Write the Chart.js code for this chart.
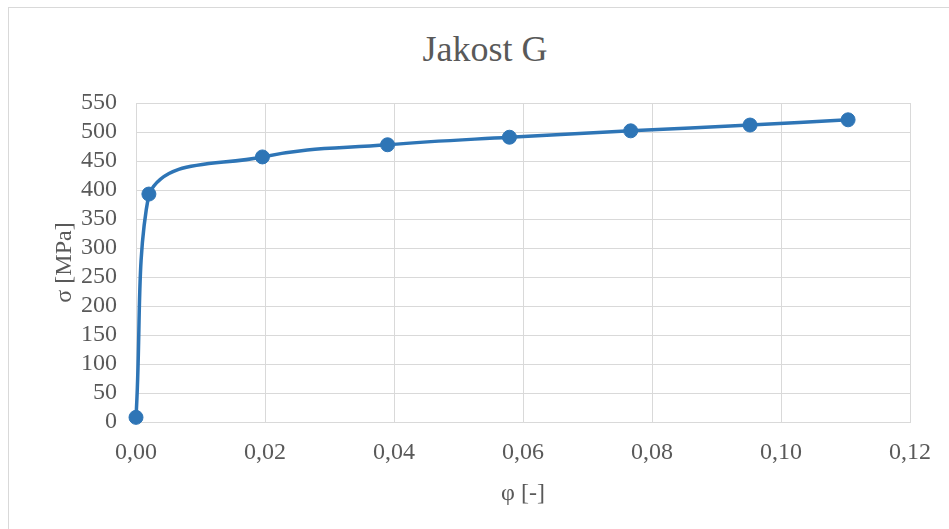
<!DOCTYPE html>
<html>
<head>
<meta charset="utf-8">
<script src="https://cdn.jsdelivr.net/npm/chart.js@4"></script>
<style>
    html, body { margin: 0; padding: 0; background: #fff; overflow: hidden; }
    .chart-frame {
        position: absolute;
        left: 8px;
        top: 7px;
        width: 980px;
        height: 560px;
        border: 1px solid #d9d9d9;
    }
    .chart-title {
        position: absolute;
        left: 8px;
        top: 31px;
        width: 954px;
        text-align: center;
        font-family: "Liberation Serif", "Times New Roman", serif;
        font-size: 36px;
        line-height: 36px;
        color: #595959;
    }
    #chart { position: absolute; left: 0; top: 0; }
</style>
</head>
<body>
<div class="chart-frame"></div>
<div class="chart-title"></div>
<canvas id="chart" width="949" height="529"></canvas>
<script>
// values
const strain = [0.0000, 0.0020, 0.0196, 0.0390, 0.0579, 0.0767, 0.0952, 0.1104]
const stress = [8, 393, 457, 478, 491, 502, 512, 521]
const xTicks = [0, 0.02, 0.04, 0.06, 0.08, 0.10, 0.12]
const yTicks = [0, 50, 100, 150, 200, 250, 300, 350, 400, 450, 500, 550]

const chartTitle = 'Jakost G'
const xTitle = 'φ [-]'
const yTitle = 'σ [MPa]'

const lineColor = '#2E75B6'
const gridColor = '#d9d9d9'
const textColor = '#595959'
const fontFamily = '"Liberation Serif", "Times New Roman", serif'

document.querySelector('.chart-title').textContent = chartTitle

const points = strain.map((x, i) => ({ x: x, y: stress[i] }))

const chart = new Chart(document.getElementById('chart').getContext('2d'), {
    type: 'scatter',
    data: {
        datasets: [{
            data: points,
            showLine: true,
            clip: false,
            tension: 0.4,
            borderColor: lineColor,
            borderWidth: 3.5,
            pointRadius: 7,
            pointBorderWidth: 1,
            pointBackgroundColor: lineColor,
            pointBorderColor: lineColor
        }]
    },
    options: {
        responsive: false,
        animation: false,
        layout: {
            padding: { left: 0, right: 39, top: 103, bottom: 0 }
        },
        plugins: {
            legend: { display: false },
            tooltip: { enabled: false },
            title: { display: false }
        },
        scales: {
            x: {
                type: 'linear',
                min: 0,
                max: 0.12,
                afterBuildTicks: scale => {
                    scale.ticks = xTicks.map(v => ({ value: v }))
                },
                afterFit: scale => {
                    scale.height = 107
                    scale.paddingLeft = 0
                    scale.paddingRight = 0
                },
                grid: { color: gridColor, lineWidth: 1, drawTicks: false },
                border: { color: gridColor, width: 1 },
                ticks: {
                    color: textColor,
                    padding: 16,
                    maxRotation: 0,
                    autoSkip: false,
                    font: { family: fontFamily, size: 24 },
                    callback: v => v.toFixed(2).replace('.', ',')
                },
                title: {
                    display: true,
                    text: xTitle,
                    color: textColor,
                    font: { family: fontFamily, size: 24 },
                    padding: { top: 0, bottom: 21 }
                }
            },
            y: {
                min: 0,
                max: 550,
                afterBuildTicks: scale => {
                    scale.ticks = yTicks.map(v => ({ value: v }))
                },
                afterFit: scale => {
                    scale.width = 136
                    scale.paddingTop = 0
                    scale.paddingBottom = 0
                },
                grid: { color: gridColor, lineWidth: 1, drawTicks: false },
                border: { color: gridColor, width: 1 },
                ticks: {
                    color: textColor,
                    padding: 19,
                    autoSkip: false,
                    font: { family: fontFamily, size: 24 }
                },
                title: {
                    display: true,
                    text: yTitle,
                    color: textColor,
                    font: { family: fontFamily, size: 24 },
                    padding: { top: 50, bottom: 0 }
                }
            }
        }
    }
})
</script>
</body>
</html>
